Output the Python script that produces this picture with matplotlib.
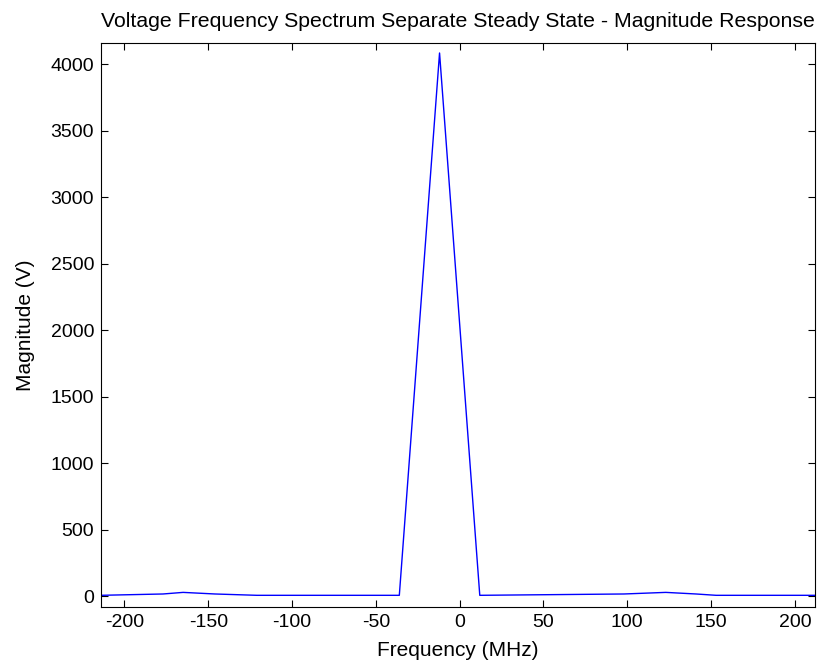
import matplotlib
matplotlib.use('Agg')
import matplotlib.pyplot as plt
import numpy as np

# spectrum (MHz, V)
freq_mhz = [-214, -177, -165, -146, -121, -36, -12, 12, 98, 123, 141, 153, 212]
magnitude = [8, 18, 30, 18, 8, 8, 4085, 8, 18, 30, 18, 8, 8]

x_ticks = [-200, -150, -100, -50, 0, 50, 100, 150, 200]
y_ticks = [0, 500, 1000, 1500, 2000, 2500, 3000, 3500, 4000]

plt.rcParams['font.family'] = ['Liberation Sans', 'DejaVu Sans']
plt.rcParams['axes.unicode_minus'] = False

fig = plt.figure(figsize=(8.19, 6.70), dpi=100)
ax = fig.add_axes([0.1233, 0.094, 0.8718, 0.8418])

ax.plot(freq_mhz, magnitude, color='#0000ff', linewidth=1.0)

ax.set_xlim(-214, 212)
ax.set_ylim(-80, 4160)
ax.set_xticks(x_ticks)
ax.set_yticks(y_ticks)
ax.tick_params(direction='in', top=True, right=True, labelsize=14, length=5, width=0.8, pad=5)
for s in ax.spines.values():
    s.set_linewidth(0.8)

ax.set_title('Voltage Frequency Spectrum Separate Steady State - Magnitude Response', fontsize=15.3, pad=11.5)
ax.set_xlabel('Frequency (MHz)', fontsize=15, labelpad=7)
ax.set_ylabel('Magnitude (V)', fontsize=15, labelpad=11)

fig.savefig('out.png', dpi=100)
